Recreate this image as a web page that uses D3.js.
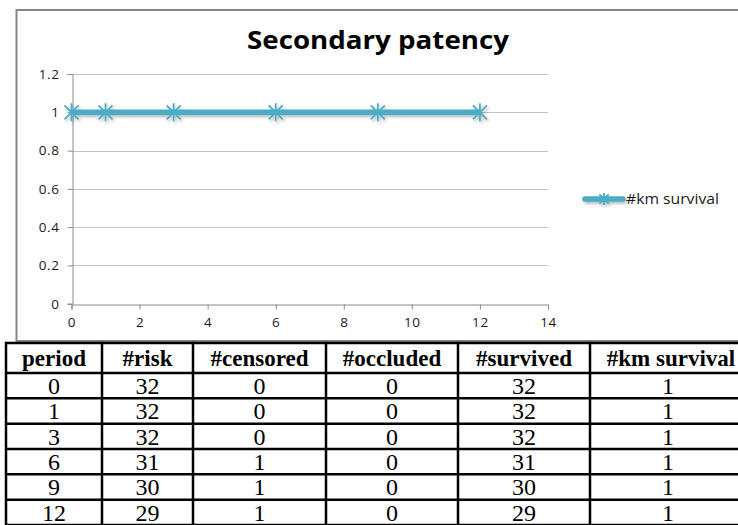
<!DOCTYPE html>
<html>
<head>
<meta charset="utf-8">
<script src="https://cdn.jsdelivr.net/npm/d3@7/dist/d3.min.js"></script>
<style>
  html, body { margin: 0; padding: 0; background: #ffffff; }
  svg { display: block; }
</style>
</head>
<body>
<svg id="chart" width="738" height="525"></svg>
<script>
// Follow-up periods (months) and life-table columns
const periods     = [0, 1, 3, 6, 9, 12];
const atRisk      = [32, 32, 32, 31, 30, 29];
const censored    = [0, 0, 0, 1, 1, 1];
const occluded    = [0, 0, 0, 0, 0, 0];
const survived    = [32, 32, 32, 31, 30, 29];
const kmSurvival  = [1, 1, 1, 1, 1, 1];

const xTicks = [0, 2, 4, 6, 8, 10, 12, 14];
const yTicks = [0, 0.2, 0.4, 0.6, 0.8, 1.0, 1.2];
const tableHeaders = ["period", "#risk", "#censored", "#occluded", "#survived", "#km survival"];
const chartTitle = "Secondary patency";
const seriesName = "#km survival";

const svg = d3.select("#chart");
const lineColor = "#4bacc6";
const axisColor = "#8c8c8c";
const gridColor = "#c3c3c3";

// Soft shadow used by the series line and markers
const defs = svg.append("defs");
const shadow = defs.append("filter").attr("id", "soft")
  .attr("x", "-50%").attr("y", "-50%").attr("width", "200%").attr("height", "200%");
shadow.append("feDropShadow").attr("dx", 1.5).attr("dy", 2).attr("stdDeviation", 1.6)
  .attr("flood-color", "#000").attr("flood-opacity", 0.28);

// Chart frame
svg.append("rect")
  .attr("x", 16.5).attr("y", 10).attr("width", 740).attr("height", 331)
  .attr("fill", "#fff").attr("stroke", "#868686").attr("stroke-width", 2);

// Scales
const x = d3.scaleLinear().domain([0, 14]).range([71.5, 548]);
const y = d3.scaleLinear().domain([0, 1.2]).range([303.7, 74]);

// Horizontal gridlines
svg.append("g").selectAll("line")
  .data(yTicks.filter(d => d > 0))
  .join("line")
  .attr("x1", x(0)).attr("x2", x(14))
  .attr("y1", d => Math.round(y(d)) + 0.5).attr("y2", d => Math.round(y(d)) + 0.5)
  .attr("stroke", gridColor).attr("stroke-width", 1);

// Axes
const yAxis = svg.append("g")
  .attr("transform", `translate(${Math.round(x(0)) + 0.5},0)`)
  .call(d3.axisLeft(y).tickValues(yTicks).tickSize(5).tickPadding(8)
        .tickFormat(d => d3.format("~g")(+d.toFixed(1))));
const xAxis = svg.append("g")
  .attr("transform", `translate(0,${Math.round(y(0)) + 0.5})`)
  .call(d3.axisBottom(x).tickValues(xTicks).tickSize(5).tickPadding(8)
        .tickFormat(d3.format("d")));
[yAxis, xAxis].forEach(g => {
  g.attr("font-size", null).attr("font-family", null);
  g.select(".domain").attr("stroke", axisColor);
  g.selectAll(".tick line").attr("stroke", axisColor);
  g.selectAll("text").attr("fill", "#1a1a1a")
    .style("font-family", "'Open Sans', sans-serif").style("font-size", "13.5px")
    .style("letter-spacing", "0.6px");
});

// Title
svg.append("text")
  .attr("x", 378).attr("y", 49)
  .attr("text-anchor", "middle")
  .attr("textLength", 262).attr("lengthAdjust", "spacingAndGlyphs")
  .style("font-family", "'Open Sans', sans-serif").style("font-weight", 700)
  .style("font-size", "25px").attr("fill", "#000")
  .text(chartTitle);

// Series
const pts = periods.map((p, i) => ({ p, v: kmSurvival[i] }));
const series = svg.append("g").attr("filter", "url(#soft)");
series.append("path")
  .datum(pts)
  .attr("fill", "none").attr("stroke", lineColor).attr("stroke-width", 5.5)
  .attr("d", d3.line().x(d => x(d.p)).y(d => y(d.v)));

function star(g, cx, cy, r) {
  const d = r * 0.78;
  const p = `M${cx - d},${cy - d}L${cx + d},${cy + d}M${cx + d},${cy - d}L${cx - d},${cy + d}` +
            `M${cx},${cy - r}L${cx},${cy + r}`;
  g.append("path").attr("d", p).attr("stroke", lineColor)
    .attr("stroke-width", 1.8).attr("fill", "none");
}
pts.forEach(d => star(series, x(d.p), y(d.v), 9));

// Legend
const lg = svg.append("g").attr("filter", "url(#soft)");
lg.append("line").attr("x1", 585).attr("x2", 623).attr("y1", 199).attr("y2", 199)
  .attr("stroke", lineColor).attr("stroke-width", 5.5).attr("stroke-linecap", "round");
star(lg, 604, 199, 6);
svg.append("text").attr("x", 626).attr("y", 204)
  .attr("textLength", 93).attr("lengthAdjust", "spacingAndGlyphs")
  .style("font-family", "'Open Sans', sans-serif").style("font-size", "14px")
  .attr("fill", "#1a1a1a").text(seriesName);

// Table
const colEdges = [6, 102, 193, 326, 458, 590, 752];
const rowEdges = [343, 373, 398.3, 423.7, 449, 474.3, 499.7, 525];
const rows = periods.map((p, i) => [p, atRisk[i], censored[i], occluded[i], survived[i], kmSurvival[i]]);
const tbl = svg.append("g");

tbl.append("rect").attr("x", colEdges[0]).attr("y", rowEdges[0])
  .attr("width", 760).attr("height", 200).attr("fill", "#fff");

tbl.selectAll("line.h").data(rowEdges).join("line")
  .attr("x1", colEdges[0]).attr("x2", 760)
  .attr("y1", d => d).attr("y2", d => d)
  .attr("stroke", "#000").attr("stroke-width", 2.5);
tbl.selectAll("line.v").data(colEdges).join("line")
  .attr("x1", d => d).attr("x2", d => d)
  .attr("y1", rowEdges[0] - 1.2).attr("y2", 530)
  .attr("stroke", "#000").attr("stroke-width", 2.5);

const colCenter = i => (colEdges[i] + colEdges[i + 1]) / 2;
tbl.selectAll("text.hd").data(tableHeaders).join("text")
  .attr("x", (d, i) => i === 5 ? 671 : colCenter(i))
  .attr("y", (rowEdges[0] + rowEdges[1]) / 2 + 7.5)
  .attr("text-anchor", "middle")
  .style("font-family", "'Liberation Serif', 'Times New Roman', serif")
  .style("font-weight", 700).style("font-size", "23px")
  .text(d => d);

rows.forEach((r, ri) => {
  const cy = (rowEdges[ri + 1] + rowEdges[ri + 2]) / 2;
  tbl.selectAll(null).data(r).join("text")
    .attr("x", (d, i) => i === 5 ? 668 : colCenter(i))
    .attr("y", cy + 8.3)
    .attr("text-anchor", "middle")
    .style("font-family", "'Liberation Serif', 'Times New Roman', serif")
    .style("font-size", "24px")
    .text(d => d);
});
</script>
</body>
</html>
